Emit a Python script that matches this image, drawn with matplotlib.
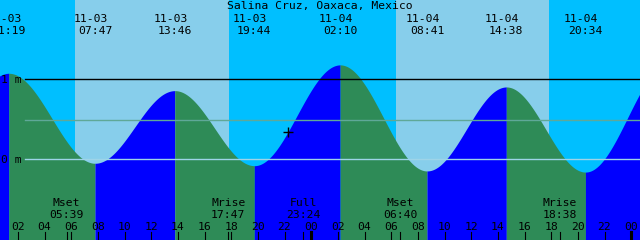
import numpy as np
import matplotlib
matplotlib.use("Agg")
import matplotlib.pyplot as plt
import matplotlib.transforms as mtransforms

# tide extremes, hours from 11-03 00:00, heights in metres
# first and last are outside the chart, estimated from the curve at the edges
tide_hours = [-4.9, 1.317, 7.783, 13.767, 19.733, 26.167, 32.683, 38.633, 44.567, 50.9]
tide_heights = [-0.05, 1.075, -0.05, 0.858, -0.08, 1.18, -0.146, 0.904, -0.16, 1.2]
tide_dates = ["", "11-03", "11-03", "11-03", "11-03", "11-04", "11-04", "11-04", "11-04", ""]
tide_times = ["", "01:19", "07:47", "13:46", "19:44", "02:10", "08:41", "14:38", "20:34", ""]

# daylight periods (sunrise, sunset)
day_start = [6.27, 30.35]
day_end = [17.82, 41.83]

# moon events
moon_hours = [5.65, 17.783, 23.4, 30.667, 42.633]
moon_names = ["Mset", "Mrise", "Full", "Mset", "Mrise"]
moon_times = ["05:39", "17:47", "23:24", "06:40", "18:38"]

mean_level = 0.49
now_hour = 22.28
now_height = 0.34

t0 = 0.66
t1 = t0 + 48
ylo, yhi = -1.009, 1.991

font = "DejaVu Sans Mono"
fs = 8.2

fig = plt.figure(figsize=(6.4, 2.4), dpi=100)
ax = fig.add_axes([0, 0, 1, 1])
ax.set_xlim(t0, t1)
ax.set_ylim(ylo, yhi)
ax.axis("off")
ax.set_facecolor("#00BFFF")
ax.axvspan(t0, t1, color="#00BFFF", lw=0, zorder=0)
for a, b in zip(day_start, day_end):
    ax.axvspan(a, b, color="#87CEEB", lw=0, zorder=1)

# tide curve, cosine between extremes; blue rising, green falling
for i in range(len(tide_hours) - 1):
    ta, tb = tide_hours[i], tide_hours[i + 1]
    ha, hb = tide_heights[i], tide_heights[i + 1]
    tt = np.linspace(ta, tb, 200)
    hh = ha + (hb - ha) * (1 - np.cos(np.pi * (tt - ta) / (tb - ta))) / 2
    col = "#0000FF" if hb > ha else "#2E8B57"
    ax.fill_between(tt, hh, ylo, color=col, lw=0, zorder=2)

# datum lines
x_line = 25 / 640
ax.axhline(1, xmin=x_line, xmax=1, color="black", lw=1.0, zorder=3)
ax.axhline(0, xmin=x_line, xmax=1, color="#9ED4E8", lw=1.0, zorder=3)
ax.axhline(mean_level, xmin=x_line, xmax=1, color="#5FA898", lw=1.0, zorder=3)
ax.text(t0 + 0.05, 1 - 4.2 / 80, "1 m", family=font, fontsize=fs, ha="left", va="baseline", zorder=4)
ax.text(t0 + 0.05, 0 - 4.2 / 80, "0 m", family=font, fontsize=fs, ha="left", va="baseline", zorder=4)

ax.plot([now_hour], [now_height], marker="+", color="black", ms=7, mew=1.0, zorder=5)

tr = mtransforms.blended_transform_factory(ax.transData, ax.transAxes)


def ypos(px):
    return 1 - px / 240


fig.text(0.5, ypos(9.5), "Salina Cruz, Oaxaca, Mexico", family=font, fontsize=fs,
         ha="center", va="baseline")

for t, d, s in zip(tide_hours, tide_dates, tide_times):
    if not d:
        continue
    ax.text(t - 0.33, ypos(21.5), d, transform=tr, family=font, fontsize=fs,
            ha="center", va="baseline", zorder=6)
    ax.text(t, ypos(34), s, transform=tr, family=font, fontsize=fs,
            ha="center", va="baseline", zorder=6)

for t, n, s in zip(moon_hours, moon_names, moon_times):
    ax.text(t, ypos(206), n, transform=tr, family=font, fontsize=fs,
            ha="center", va="baseline", zorder=6)
    ax.text(t, ypos(217.5), s, transform=tr, family=font, fontsize=fs,
            ha="center", va="baseline", zorder=6)
    ax.axvline(t, ymin=0, ymax=8 / 240, color="black", lw=0.8, zorder=6)

# hour ticks
for h in range(2, 49, 2):
    ax.text(h, ypos(230), "%02d" % (h % 24), transform=tr, family=font, fontsize=fs,
            ha="center", va="baseline", zorder=6)
    if h % 24 == 0:
        ax.axvline(h, ymin=0, ymax=8 / 240, color="black", lw=2.2, zorder=6)
    else:
        ax.axvline(h, ymin=0, ymax=8 / 240, color="black", lw=0.8, zorder=6)

fig.savefig("out.png", dpi=100)
